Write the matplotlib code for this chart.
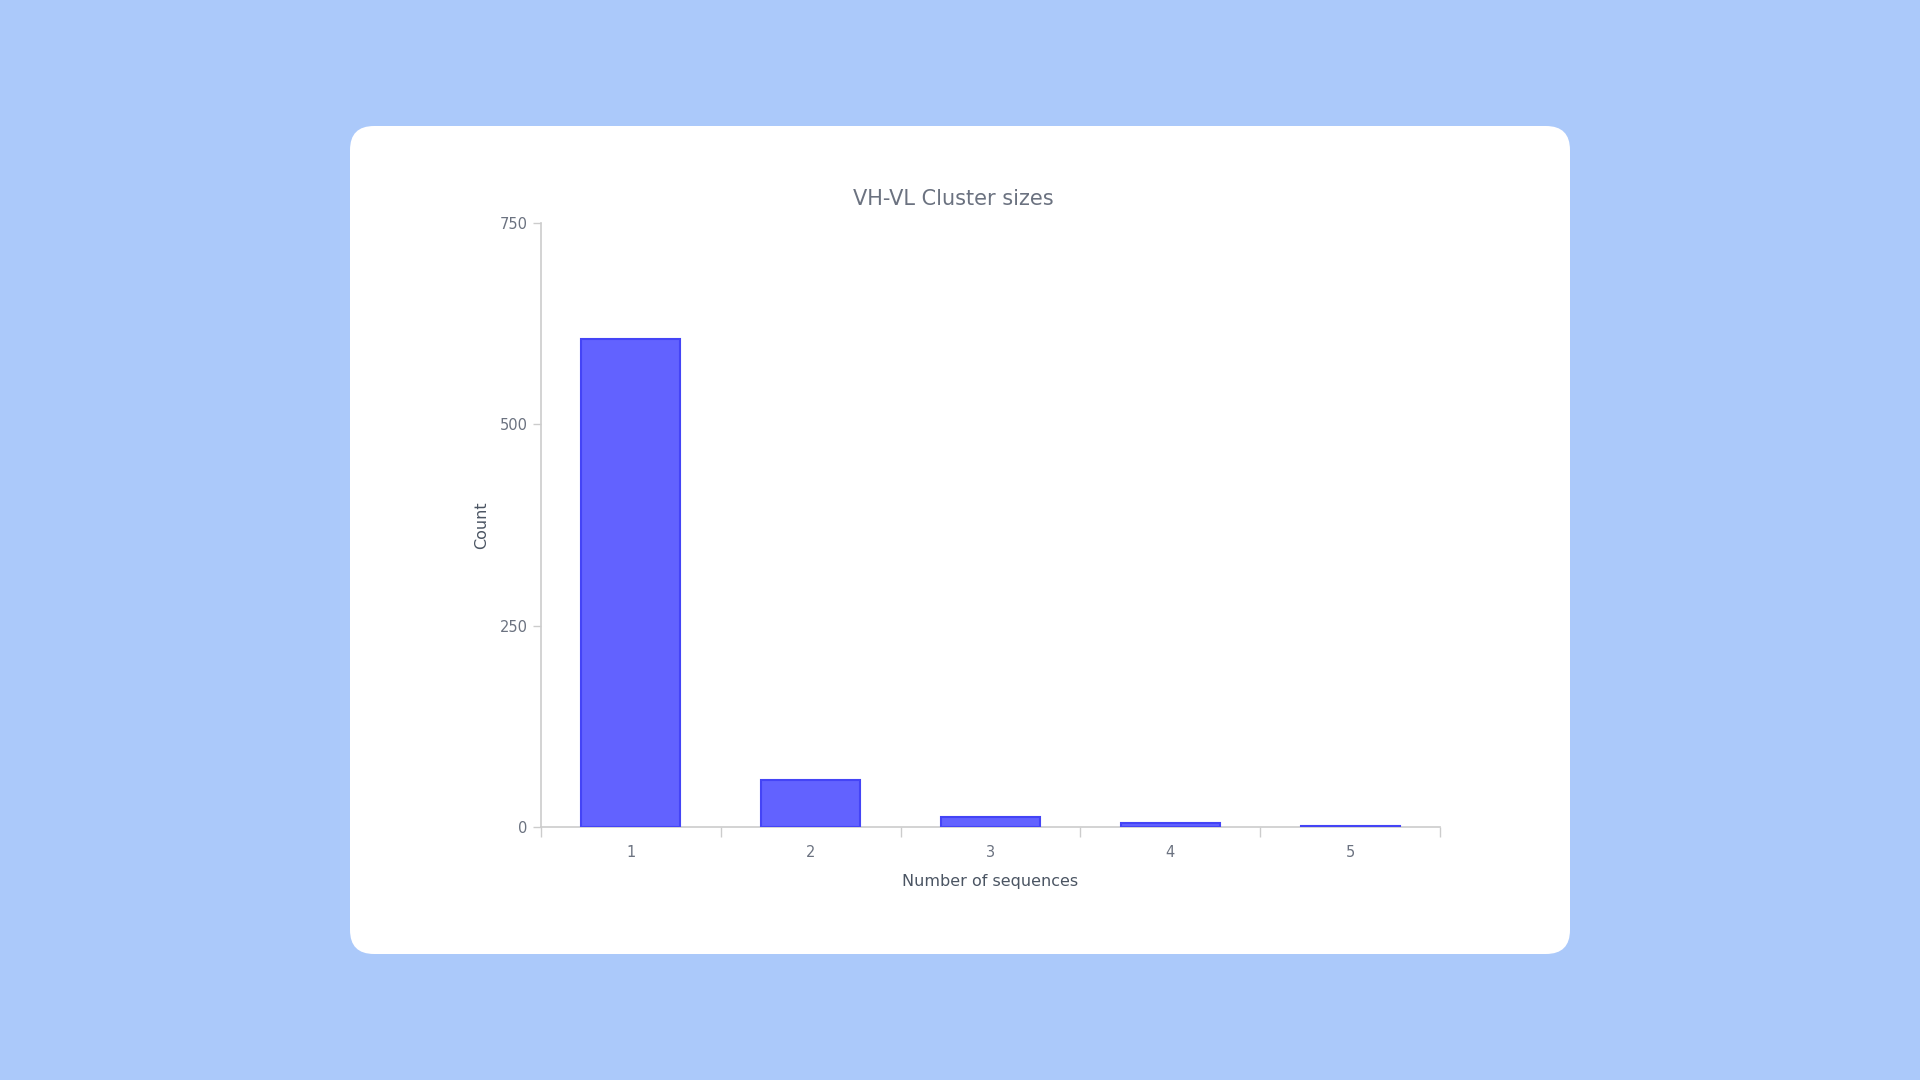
import matplotlib.pyplot as plt
from matplotlib.patches import FancyBboxPatch

# cluster size histogram data
sizes = [1, 2, 3, 4, 5]
counts = [606, 58, 13, 5, 1]
y_ticks = [0, 250, 500, 750]

fig = plt.figure(figsize=(19.2, 10.8), dpi=100)
fig.patch.set_facecolor("#abc9fa")

# white card with rounded corners
W, H = 1920, 1080
card = FancyBboxPatch((350 / W, (1080 - 954) / H), 1220 / W, 828 / H,
                      boxstyle="round,pad=0,rounding_size=0.0125",
                      transform=fig.transFigure, facecolor="white",
                      edgecolor="none", mutation_aspect=W / H, zorder=-5)
fig.patches.append(card)

ax = fig.add_axes([541 / W, (1080 - 827) / H, 899 / W, 604 / H])
ax.set_zorder(2)
ax.set_facecolor("none")
ax.bar(sizes, counts, width=0.55, color="#6262ff", edgecolor="#4444f6", linewidth=1.5, zorder=3)

ax.set_xlim(0.5, 5.5)
ax.set_ylim(0, 750)
ax.set_yticks(y_ticks)
ax.set_xticks(sizes)
ax.set_xticks([0.5, 1.5, 2.5, 3.5, 4.5, 5.5], minor=True)

txt = "#6b7280"
ax.tick_params(axis="x", which="major", length=0, pad=13, labelsize=10.5, labelcolor=txt)
ax.tick_params(axis="x", which="minor", length=7, width=1, color="#cccccc")
ax.tick_params(axis="y", length=6, width=1, color="#cccccc", pad=3.5, labelsize=10.5, labelcolor=txt)

for s in ["top", "right"]:
    ax.spines[s].set_visible(False)
for s in ["left", "bottom"]:
    ax.spines[s].set_color("#cccccc")
    ax.spines[s].set_linewidth(1.2)

ax.set_xlabel("Number of sequences", fontsize=11.5, color="#4b5563", labelpad=10)
ax.set_ylabel("Count", fontsize=11.5, color="#4b5563", labelpad=8)
fig.text(953 / W, 1 - 199 / H, "VH-VL Cluster sizes", ha="center", va="center",
         fontsize=15, color="#6b7280")

fig.savefig("out.png", dpi=100, facecolor=fig.get_facecolor())
